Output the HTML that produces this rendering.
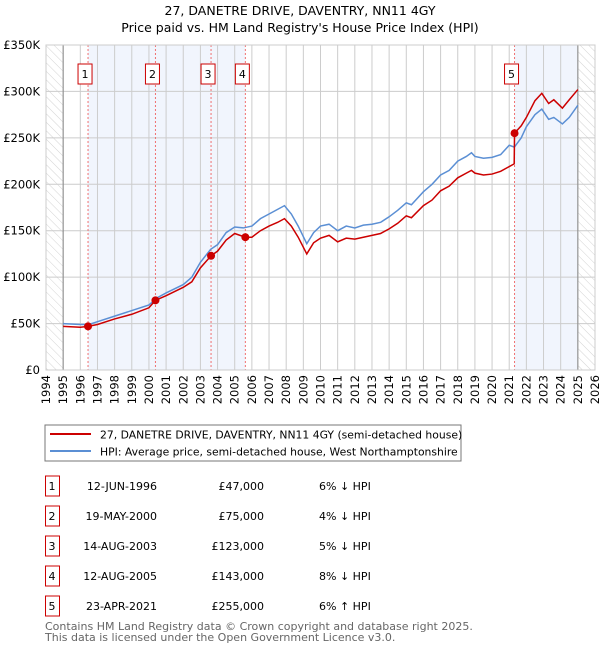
<!DOCTYPE html>
<html><head><meta charset="utf-8"><style>
body{margin:0;background:#fff;font-family:"Liberation Sans","DejaVu Sans",sans-serif;}
svg text{font-family:"DejaVu Sans","Liberation Sans",sans-serif;}
</style></head><body>
<svg id="c" width="600" height="650" xmlns="http://www.w3.org/2000/svg">
<defs><pattern id="hatch" width="6" height="6" patternUnits="userSpaceOnUse" patternTransform="rotate(-45)"><line x1="0" y1="0" x2="0" y2="6" stroke="#c8c8c8" stroke-width="0.8"/></pattern></defs>
<text x="300" y="15" text-anchor="middle" font-size="12.5">27, DANETRE DRIVE, DAVENTRY, NN11 4GY</text>
<text x="300" y="32" text-anchor="middle" font-size="12.5">Price paid vs. HM Land Registry's House Price Index (HPI)</text>
<g id="plot"></g>
<rect x="45" y="425" width="416" height="36" fill="#fff" stroke="#777"/>
<line x1="50" y1="434" x2="91" y2="434" stroke="#cc0000" stroke-width="2"/>
<text x="100" y="438.5" font-size="10.8">27, DANETRE DRIVE, DAVENTRY, NN11 4GY (semi-detached house)</text>
<line x1="50" y1="451" x2="91" y2="451" stroke="#5b8fd4" stroke-width="2"/>
<text x="100" y="455.5" font-size="10.8">HPI: Average price, semi-detached house, West Northamptonshire</text>
<g id="table"></g>
<text x="45" y="630" font-size="11" fill="#666">Contains HM Land Registry data © Crown copyright and database right 2025.</text>
<text x="45" y="641" font-size="11" fill="#666">This data is licensed under the Open Government Licence v3.0.</text>
</svg>
<script>
const yTicks=[0,50000,100000,150000,200000,250000,300000,350000];
const yTickLabels=["£0","£50K","£100K","£150K","£200K","£250K","£300K","£350K"];
const years=[1994,1995,1996,1997,1998,1999,2000,2001,2002,2003,2004,2005,2006,2007,2008,2009,2010,2011,2012,2013,2014,2015,2016,2017,2018,2019,2020,2021,2022,2023,2024,2025,2026];
const hpiT=[1995,1996,1996.5,1997,1998,1999,2000,2000.5,2001,2002,2002.5,2003,2003.6,2004,2004.5,2005,2005.5,2006,2006.5,2007,2007.5,2007.9,2008.3,2008.7,2009.2,2009.6,2010,2010.5,2011,2011.5,2012,2012.5,2013,2013.5,2014,2014.5,2015,2015.3,2016,2016.5,2017,2017.5,2018,2018.5,2018.8,2019,2019.5,2020,2020.5,2021,2021.3,2021.7,2022,2022.5,2022.9,2023.3,2023.6,2024.1,2024.5,2025];
const hpiV=[50,49,49,52,58,64,70,78,83,92,100,116,130,135,148,154,153,155,163,168,173,177,168,155,136,148,155,157,150,155,153,156,157,159,165,172,180,178,192,200,210,215,225,230,234,230,228,229,232,242,240,250,262,275,281,270,272,265,272,285];
const propT=[1995,1996,1996.45,1997,1998,1999,2000,2000.38,2001,2002,2002.5,2003,2003.62,2004,2004.5,2005,2005.62,2006,2006.5,2007,2007.5,2007.9,2008.3,2008.7,2009.2,2009.6,2010,2010.5,2011,2011.5,2012,2012.5,2013,2013.5,2014,2014.5,2015,2015.3,2016,2016.5,2017,2017.5,2018,2018.5,2018.8,2019,2019.5,2020,2020.5,2021.29,2021.31,2021.7,2022,2022.5,2022.9,2023.3,2023.6,2024.1,2024.5,2025];
const propV=[47,46,47,49,55,60,67,75,80,89,95,110,123,128,140,147,143,143,150,155,159,163,155,143,125,137,142,145,138,142,141,143,145,147,152,158,166,164,177,183,193,198,207,212,215,212,210,211,214,222,255,263,272,290,298,287,291,282,291,302];
const saleT=[1996.45,2000.38,2003.62,2005.62,2021.31];
const saleV=[47000,75000,123000,143000,255000];
const saleLabels=["1","2","3","4","5"];
const saleDates=["12-JUN-1996","19-MAY-2000","14-AUG-2003","12-AUG-2005","23-APR-2021"];
const salePrices=["£47,000","£75,000","£123,000","£143,000","£255,000"];
const saleHpi=["6% ↓ HPI","4% ↓ HPI","5% ↓ HPI","8% ↓ HPI","6% ↑ HPI"];
const shadeEnd=[2000.38,2003.62,2005.62,null,2025];

const X0=46,X1=595,Y0=370,Y1=45;
const sx=t=>X0+(t-1994)*(X1-X0)/32;
const sy=v=>Y0-v*(Y0-Y1)/350000;
const NS="http://www.w3.org/2000/svg";
const plot=document.getElementById('plot');
function mk(tag,attrs,parent){const e=document.createElementNS(NS,tag);for(const k in attrs)e.setAttribute(k,attrs[k]);(parent||plot).appendChild(e);return e;}
for(let i=0;i<saleT.length;i++){if(shadeEnd[i]===null)continue;
 const r=mk('rect',{x:sx(saleT[i]),y:Y1,width:sx(shadeEnd[i])-sx(saleT[i]),height:Y0-Y1,fill:'#f1f5fd'});
 
 }
const h1=mk('rect',{x:X0,y:Y1,width:sx(1995)-X0,height:Y0-Y1,fill:'url(#hatch)'});


const h2=mk('rect',{x:sx(2025),y:Y1,width:X1-sx(2025),height:Y0-Y1,fill:'url(#hatch)'});


years.forEach(y=>{const l=mk('line',{x1:sx(y),x2:sx(y),y1:Y1,y2:Y0,stroke:'#ccc','stroke-width':1});
 
 
 const t=mk('text',{x:0,y:0,'font-size':11.5,'text-anchor':'end',transform:`translate(${sx(y)+4},${Y0+5}) rotate(-90)`});
 t.textContent=y;
 
 });
yTicks.forEach((v,i)=>{const l=mk('line',{x1:X0,x2:X1,y1:sy(v),y2:sy(v),stroke:'#ccc','stroke-width':1});
 
 
 const t=mk('text',{x:40,y:sy(v)+4,'font-size':11.5,'text-anchor':'end'});
 t.textContent=yTickLabels[i];
 
 });
const ax1=mk('line',{x1:sx(1995),x2:sx(1995),y1:Y1,y2:Y0,stroke:'#888'});


const ax2=mk('line',{x1:sx(2025),x2:sx(2025),y1:Y1,y2:Y0,stroke:'#888'});


saleT.forEach((t,i)=>{const l=mk('line',{x1:sx(t),x2:sx(t),y1:Y1,y2:Y0,stroke:'#f07070','stroke-dasharray':'2,2','stroke-width':1});
 
 
 const b=mk('rect',{x:sx(t)-10,y:64,width:14,height:20,fill:'#fff',stroke:'#cc0000'});
 
 
 const tx=mk('text',{x:sx(t)-3,y:78,'font-size':11,'text-anchor':'middle'});
 tx.textContent=saleLabels[i];
 
 });
const hp=mk('polyline',{points:hpiT.map((t,i)=>sx(t)+','+sy(hpiV[i]*1000)).join(' '),fill:'none',stroke:'#5b8fd4','stroke-width':1.5});


const pp=mk('polyline',{points:propT.map((t,i)=>sx(t)+','+sy(propV[i]*1000)).join(' '),fill:'none',stroke:'#cc0000','stroke-width':1.5});


saleT.forEach((t,i)=>{const c=mk('circle',{cx:sx(t),cy:sy(saleV[i]),r:4,fill:'#cc0000'});
 
 });
const border=mk('rect',{x:X0,y:Y1,width:X1-X0,height:Y0-Y1,fill:'none',stroke:'#ccc'});


const tb=document.getElementById('table');
saleT.forEach((t,i)=>{const y=483+i*30;
 const b=mk('rect',{x:45.5,y:y-7,width:14,height:20,fill:'#fff',stroke:'#cc0000'},tb);
 
 
 const cols=[[52,'middle',saleLabels[i]],[157,'end',saleDates[i]],[264,'end',salePrices[i]],[319,'start',saleHpi[i]]];
 cols.forEach((c,j)=>{const tx=mk('text',{x:c[0],y:y+7,'font-size':11,'text-anchor':c[1]},tb);
  tx.textContent=c[2];
  
  });});
</script>
</body></html>
